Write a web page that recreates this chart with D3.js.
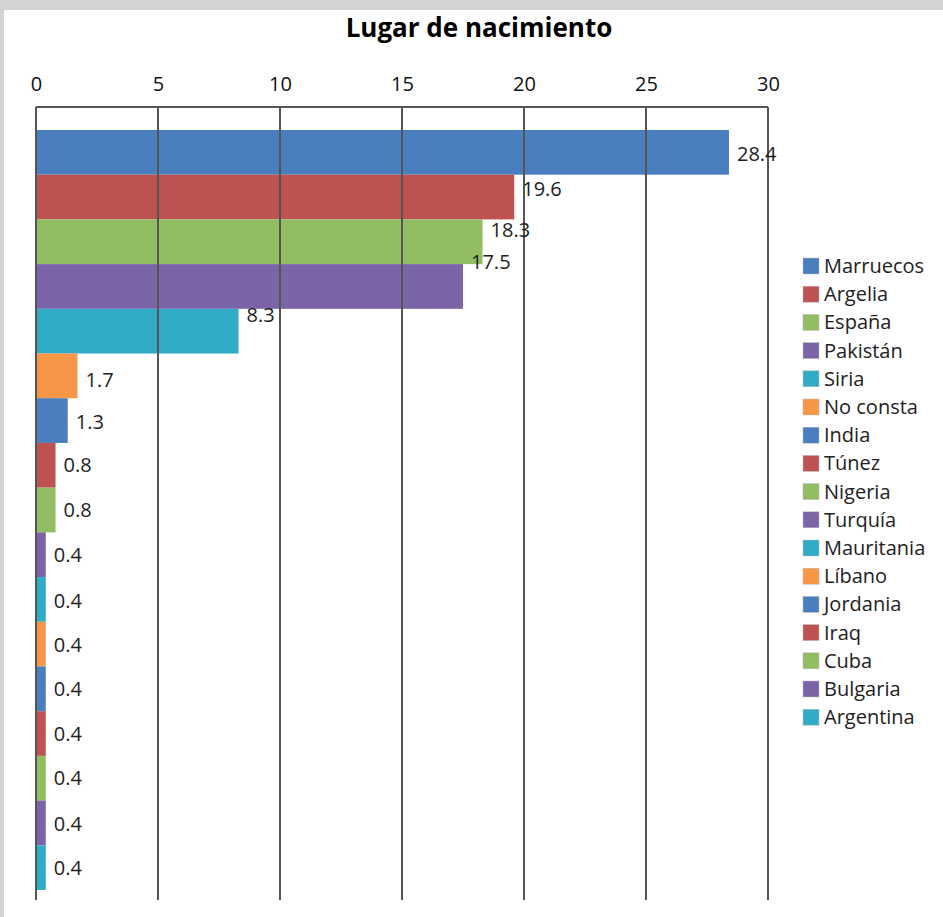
<!DOCTYPE html>
<html><head><meta charset="utf-8">
<script src="https://cdn.jsdelivr.net/npm/d3@7"></script>
<style>
html,body{margin:0;padding:0;background:#fff;}
svg{display:block;}
</style></head>
<body>
<script>
const categories = ["Marruecos","Argelia","España","Pakistán","Siria","No consta","India","Túnez","Nigeria","Turquía","Mauritania","Líbano","Jordania","Iraq","Cuba","Bulgaria","Argentina"];
const values = [28.4,19.6,18.3,17.5,8.3,1.7,1.3,0.8,0.8,0.4,0.4,0.4,0.4,0.4,0.4,0.4,0.4];
const tickValues = [0,5,10,15,20,25,30];
const palette = ["#4a7ebf","#be5250","#92bd63","#7b65a8","#31acc6","#f79646"];
const title = "Lugar de nacimiento";
// label nudges (px) reproducing the reference's label placement
const labelDy = [2,-8,-12,-24,-16,4,1,0,0,0,2,1,0,0,0,1,0];

(function(){
const W=943,H=917;
const svg=d3.select("body").append("svg").attr("width",W).attr("height",H);
svg.append("rect").attr("width",W).attr("height",H).attr("fill","#d3d4d6");
svg.append("rect").attr("x",4).attr("y",10).attr("width",W-4).attr("height",H-10).attr("fill","#fff");

const x=d3.scaleLinear().domain([0,30]).range([36,768]);
const y=d3.scaleBand().domain(categories).range([130,890]).padding(0);
const color=(d,i)=>palette[i%palette.length];
const plotTop=107,plotBottom=900;

svg.append("text").attr("x",479).attr("y",37).attr("text-anchor","middle")
  .attr("font-family","'Open Sans',sans-serif").attr("font-weight","bold").attr("font-size",26)
  .attr("fill","#000").text(title);

// bars
svg.append("g").selectAll("rect").data(values).join("rect")
  .attr("x",x(0)).attr("y",(d,i)=>y(categories[i]))
  .attr("width",d=>x(d)-x(0)).attr("height",y.bandwidth())
  .attr("fill",(d,i)=>color(d,i));

// gridlines
svg.append("g").selectAll("line").data(tickValues).join("line")
  .attr("x1",d=>x(d)).attr("x2",d=>x(d)).attr("y1",plotTop).attr("y2",plotBottom)
  .attr("stroke","#555").attr("stroke-width",2);
svg.append("line").attr("x1",x(0)).attr("x2",x(30)).attr("y1",plotTop).attr("y2",plotTop)
  .attr("stroke","#555").attr("stroke-width",2);

// top axis labels
const ax=d3.axisTop(x).tickValues(tickValues).tickSize(0).tickPadding(0);
const axg=svg.append("g").attr("transform","translate(0,91)").call(ax);
axg.select(".domain").remove();
axg.selectAll("text").attr("font-family","'Open Sans',sans-serif")
  .attr("font-size",20).attr("fill","#111");

// data labels
svg.append("g").selectAll("text").data(values).join("text")
  .attr("x",d=>x(d)+8).attr("y",(d,i)=>y(categories[i])+y.bandwidth()/2+labelDy[i])
  .attr("dy","0.35em").attr("font-family","'Open Sans',sans-serif").attr("font-size",20)
  .attr("fill","#222").text(d=>d.toFixed(1));

// legend
const lg=svg.append("g").selectAll("g").data(categories).join("g")
  .attr("transform",(d,i)=>`translate(803,${266+i*28.2})`);
lg.append("rect").attr("x",0).attr("y",-8).attr("width",16).attr("height",16)
  .attr("fill",(d,i)=>color(d,i)).attr("stroke","#bbb").attr("stroke-width",0.5);
lg.append("text").attr("x",21).attr("dy","0.35em").attr("font-family","'Open Sans',sans-serif")
  .attr("font-size",20).attr("fill","#222").text(d=>d);
})();
</script>
</body></html>
